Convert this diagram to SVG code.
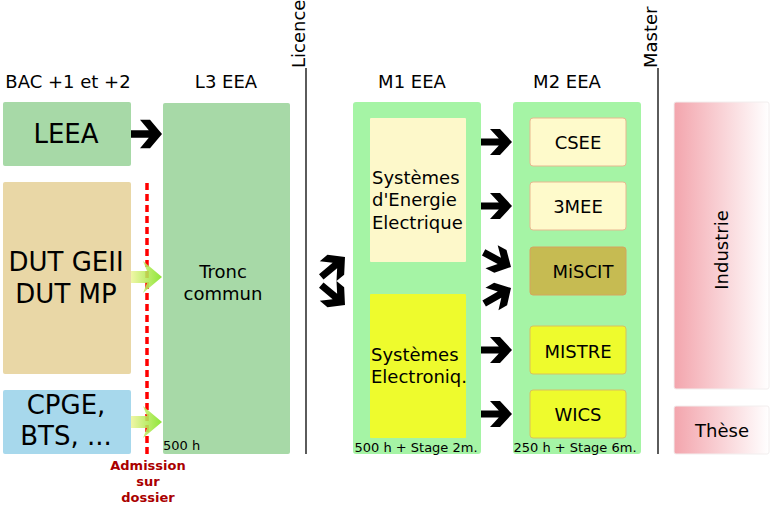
<svg xmlns="http://www.w3.org/2000/svg" width="770" height="505" viewBox="0 0 770 505">
<style>
text{font-family:"DejaVu Sans","Liberation Sans",sans-serif;fill:#000}
.h{font-size:18px;text-anchor:middle}
.big{font-size:26px;text-anchor:middle}
.mid{font-size:18px}
.sm{font-size:13px}
.c{text-anchor:middle}
.adm{font-size:13px;font-weight:bold;fill:#aa0000;text-anchor:middle}
.sep{stroke:#333;stroke-width:1.6;fill:none}
.g1{fill:#a7d9a7}
.g2{fill:#a5f4a5}
.opt{stroke-width:1}
</style>
<defs>
<path id="arr" d="M-31,-3.5 L-13.2,-3.5 L-22,-13 L-12,-13 L0,0 L-12,13 L-22,13 L-13.2,3.5 L-31,3.5 Z" fill="#000"/>
<linearGradient id="gy" x1="0" y1="0" x2="1" y2="0">
<stop offset="0" stop-color="#eef59a"/>
<stop offset="1" stop-color="#7fe21e"/>
</linearGradient>
<path id="garr" d="M-31,-6 H-15 L-19,-16 L0,0 L-19,16 L-15,6 H-31 Z" fill="url(#gy)" fill-opacity="0.88"/>
<linearGradient id="pk" x1="0" y1="0" x2="1" y2="0">
<stop offset="0" stop-color="#f3a5ad"/>
<stop offset="1" stop-color="#ffffff"/>
</linearGradient>
</defs>

<g id="headers">
<text class="h" x="68" y="88">BAC +1 et +2</text>
<text class="h" x="226" y="88">L3 EEA</text>
<text class="h" x="412" y="88">M1 EEA</text>
<text class="h" x="567" y="88">M2 EEA</text>
</g>

<g id="licence">
<line class="sep" x1="306" y1="68" x2="306" y2="454"/>
<text class="mid" transform="translate(305,68) rotate(-90)">Licence</text>
</g>
<g id="master">
<line class="sep" x1="658" y1="68" x2="658" y2="454"/>
<text class="mid" transform="translate(657,68) rotate(-90)">Master</text>
</g>

<g id="leea">
<rect class="g1" x="3" y="102" width="128" height="64" rx="2"/>
<text class="big" x="66" y="143">LEEA</text>
</g>
<g id="dut">
<rect x="3" y="182" width="128" height="192" rx="2" fill="#e9d7a6"/>
<text class="big" x="66" y="271">DUT GEII</text>
<text class="big" x="66" y="303">DUT MP</text>
</g>
<g id="cpge">
<rect x="3" y="390" width="128" height="64" rx="2" fill="#a7d8ec"/>
<text class="big" x="66" y="414">CPGE,</text>
<text class="big" x="66" y="445">BTS, ...</text>
</g>

<g id="l3">
<rect class="g1" x="163" y="103" width="127" height="351" rx="2"/>
<text class="mid c" x="223" y="278">Tronc</text>
<text class="mid c" x="223" y="300">commun</text>
<text class="sm" x="163" y="450">500 h</text>
</g>

<g id="admission">
<line x1="147" y1="183" x2="147" y2="454" stroke="#ff0000" stroke-width="3.5" stroke-dasharray="7,4"/>
<text class="adm" x="148" y="470">Admission</text>
<text class="adm" x="148" y="486">sur</text>
<text class="adm" x="148" y="502">dossier</text>
</g>

<g id="m1">
<rect class="g2" x="353" y="102" width="128" height="352" rx="3"/>
<text class="sm c" x="416" y="452">500 h + Stage 2m.</text>
</g>
<g id="energie">
<rect x="370" y="118" width="96" height="144" rx="1" fill="#fdf8ca"/>
<text class="mid" x="372" y="184">Systèmes</text>
<text class="mid" x="372" y="206">d'Energie</text>
<text class="mid" x="372" y="229">Electrique</text>
</g>
<g id="electronique">
<rect x="370" y="294" width="96" height="144" rx="1" fill="#eefb2d"/>
<text class="mid" x="371" y="361">Systèmes</text>
<text class="mid" x="371" y="383">Electroniq.</text>
</g>

<g id="m2">
<rect class="g2" x="513" y="102" width="128" height="352" rx="3"/>
<text class="sm c" x="575" y="452">250 h + Stage 6m.</text>
</g>
<g id="csee">
<rect class="opt" x="530" y="118" width="96" height="48" rx="3" fill="#fefacb" stroke="#e8b890"/>
<text class="mid c" x="578" y="149">CSEE</text>
</g>
<g id="mee3">
<rect class="opt" x="530" y="182" width="96" height="48" rx="3" fill="#fefacb" stroke="#e8b890"/>
<text class="mid c" x="578" y="213">3MEE</text>
</g>
<g id="miscit">
<rect class="opt" x="530" y="247" width="96" height="48" rx="3" fill="#c6bb52" stroke="#d6a45e"/>
<text class="mid c" x="583" y="278">MiSCIT</text>
</g>
<g id="mistre">
<rect class="opt" x="530" y="326" width="96" height="48" rx="3" fill="#eefb2d" stroke="#d8c060"/>
<text class="mid c" x="578" y="358">MISTRE</text>
</g>
<g id="wics">
<rect class="opt" x="530" y="390" width="96" height="48" rx="3" fill="#eefb2d" stroke="#d8c060"/>
<text class="mid c" x="578" y="421">WICS</text>
</g>

<g id="industrie">
<rect x="674" y="102" width="95" height="287" rx="2" fill="url(#pk)" stroke="#f2eeee" stroke-width="1"/>
<text class="mid c" transform="translate(728,250) rotate(-90)">Industrie</text>
</g>
<g id="these">
<rect x="674" y="406" width="95" height="48" rx="2" fill="url(#pk)" stroke="#f2eeee" stroke-width="1"/>
<text class="mid c" x="722" y="437">Thèse</text>
</g>

<g id="connectors">
<use href="#arr" transform="translate(162,134) scale(1,1.1)"/>
<use href="#garr" transform="translate(162,277)"/>
<use href="#garr" transform="translate(162,422)"/>
<use href="#arr" transform="translate(345,257) rotate(-40)"/>
<use href="#arr" transform="translate(345,305) rotate(40)"/>
<use href="#arr" transform="translate(512,142)"/>
<use href="#arr" transform="translate(512,206)"/>
<use href="#arr" transform="translate(511,267) rotate(28)"/>
<use href="#arr" transform="translate(511,288) rotate(-30)"/>
<use href="#arr" transform="translate(512,350)"/>
<use href="#arr" transform="translate(512,414)"/>
</g>
</svg>
